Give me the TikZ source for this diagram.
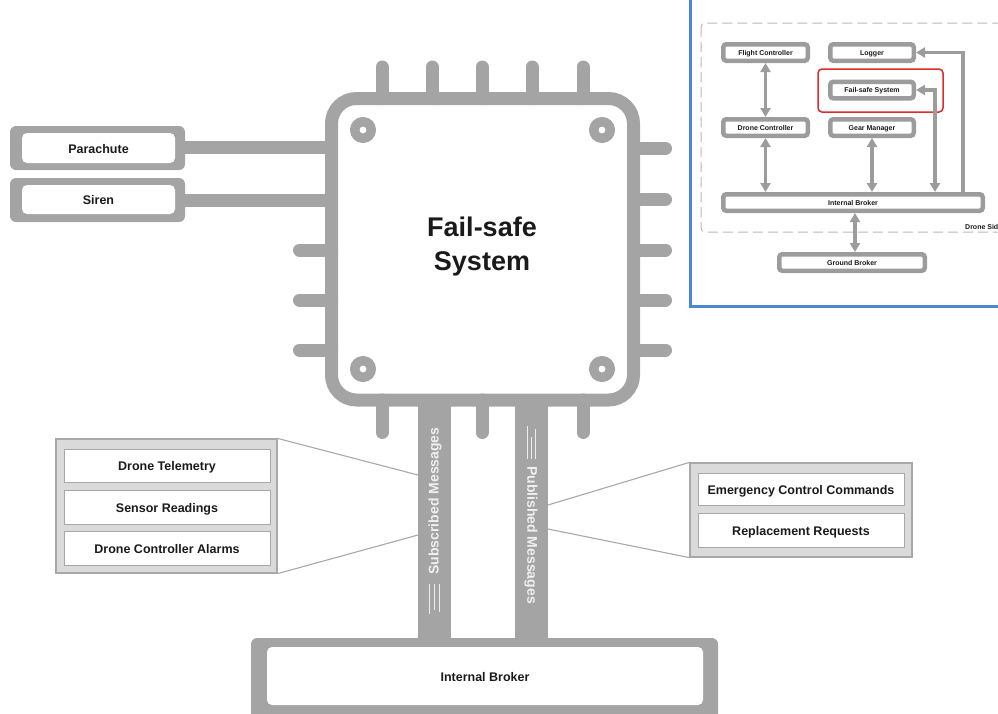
\documentclass[tikz,border=0pt]{standalone}
\usepackage{fontspec}
\setmainfont{Liberation Sans}
\usetikzlibrary{arrows.meta,calc}
\definecolor{chipgray}{HTML}{A4A4A4}
\definecolor{panelgray}{HTML}{DADADA}
\definecolor{edgegray}{HTML}{A8A8A8}
\definecolor{insetgray}{HTML}{9C9C9C}
\definecolor{dashgray}{HTML}{B8B8B8}
\definecolor{frameblue}{HTML}{4A88D2}
\definecolor{focusred}{HTML}{E02A2A}
\definecolor{ink}{HTML}{1A1A1A}
\tikzset{flowtip/.tip={Triangle[width=10pt,length=9pt]}}
\begin{document}
\begin{tikzpicture}[x=1pt,y=-1pt,
  pin/.style={draw=chipgray,line width=13pt,line cap=round},
  bus/.style={draw=chipgray,line width=13pt},
  chipbody/.style={draw=chipgray,line width=13pt,rounded corners=25pt,
    minimum width=302pt,minimum height=301.5pt,inner sep=0pt},
  hole/.style={circle,draw=chipgray,line width=9.5pt,minimum size=16.5pt,inner sep=0pt},
  frame/.style={fill=chipgray,rounded corners=6pt,inner sep=0pt},
  slot/.style={fill=white,rounded corners=5pt,inner sep=0pt,text=ink,
    text height=11.5pt,text depth=1pt,
    font=\bfseries\fontsize{12.5}{15}\selectfont},
  bar/.style={fill=chipgray,inner sep=0pt,minimum width=33pt,minimum height=238pt},
  panel/.style={fill=panelgray,draw=edgegray,line width=1.2pt,inner sep=0pt},
  msg/.style={fill=white,draw=edgegray,line width=1pt,inner sep=0pt,
    minimum width=206pt,minimum height=33pt,text=ink,
    text height=11.5pt,text depth=1pt,
    font=\bfseries\fontsize{12.5}{15}\selectfont},
  leader/.style={draw=edgegray,line width=1.1pt},
  barlabel/.style={text=white!94!black,inner sep=0pt,
    font=\bfseries\fontsize{14}{16}\selectfont},
  tick/.style={draw=white!80!chipgray,line width=0.8pt},
  ibox/.style={draw=insetgray,line width=4.5pt,rounded corners=3pt,fill=white,
    inner sep=0pt,minimum height=16.5pt,text=ink,
    text height=6pt,text depth=0.5pt,
    font=\bfseries\fontsize{7}{8}\selectfont},
  flow/.style={draw=insetgray,line width=3.5pt},
]
\useasboundingbox (0,0) rectangle (998,713);

% ---------- pins of the chip ----------
\foreach \px in {382,432,482,532,583} \draw[pin] (\px,67) -- (\px,98.5);
\foreach \py in {148.5,199.5,250,300,350} \draw[pin] (633.5,\py) -- (665.5,\py);
\foreach \py in {250,300,350} \draw[pin] (299.5,\py) -- (331.5,\py);
\foreach \px in {382,482,583} \draw[pin] (\px,400) -- (\px,432.5);

% ---------- chip body ----------
\node[chipbody] (chip) at (482.5,249.25) {};
\node[hole] (holeNW) at (363,130) {};
\node[hole] (holeNE) at (602,130) {};
\node[hole] (holeSW) at (363,369) {};
\node[hole] (holeSE) at (602,369) {};
\node[align=center,inner sep=0pt,text=ink,font=\bfseries\fontsize{27}{34}\selectfont]
  (title) at (482,247) {Fail-safe\\System};

% ---------- actuators on the left ----------
\node[frame,minimum width=175pt,minimum height=44pt] (parachuteframe) at (97.5,148) {};
\node[slot,minimum width=153pt,minimum height=30pt] (parachute) at (98.5,148) {Parachute};
\node[frame,minimum width=175pt,minimum height=44pt] (sirenframe) at (97.5,200) {};
\node[slot,minimum width=153pt,minimum height=29pt] (siren) at (98.5,199.5) {Siren};
\draw[bus] ([yshift=0.5pt]parachuteframe.east) -- ([yshift=0.5pt]chip.west |- parachuteframe.east);
\draw[bus] ([yshift=-0.5pt]sirenframe.east) -- ([yshift=-0.5pt]chip.west |- sirenframe.east);

% ---------- message buses and broker ----------
\node[bar] (subbar) at (434.5,519) {};
\node[bar] (pubbar) at (531.5,519) {};
\node[frame,minimum width=467pt,minimum height=87pt] (brokerframe) at (484.5,681.5) {};
\node[slot,minimum width=436pt,minimum height=58pt] (broker) at (485,676) {Internal Broker};

\node[barlabel,rotate=90] (sublabel) at (435,501) {Subscribed Messages};
\node[barlabel,rotate=-90] (publabel) at (531,535) {Published Messages};

\draw[tick] (429.5,584) -- (429.5,614);
\draw[tick] (434.5,584) -- (434.5,610);
\draw[tick] (439.5,584) -- (439.5,612);
\draw[tick] (527.5,426) -- (527.5,459);
\draw[tick] (531.5,437) -- (531.5,459);
\draw[tick] (535.5,429) -- (535.5,459);

% ---------- subscribed message list ----------
\node[panel,minimum width=221pt,minimum height=134pt] (subpanel) at (166.5,506) {};
\node[msg] (telemetry) at (167,465.5) {Drone Telemetry};
\node[msg,minimum height=34pt] (sensors) at (167,507) {Sensor Readings};
\node[msg,minimum height=34pt] (alarms) at (167,548) {Drone Controller Alarms};
\coordinate (subhi) at (418,475);
\coordinate (sublo) at (418,535);
\draw[leader] (subpanel.north east) -- (subhi);
\draw[leader] (subpanel.south east) -- (sublo);

% ---------- published message list ----------
\node[panel,minimum width=222pt,minimum height=94pt] (pubpanel) at (801,510) {};
\node[msg,minimum height=32pt] (emergency) at (801,489) {Emergency Control Commands};
\node[msg,minimum height=34pt] (replacement) at (801,530) {Replacement Requests};
\coordinate (pubhi) at (548,505);
\coordinate (publo) at (548,529);
\draw[leader] (pubhi) -- (pubpanel.north west);
\draw[leader] (publo) -- (pubpanel.south west);

% ---------- overview of the drone side ----------
\begin{scope}
\clip (689,-2) rectangle (998,308);
\draw[frameblue,line width=2.7pt] (690.7,-5) -- (690.7,306.2) -- (1005,306.2);
\draw[dashgray,line width=1pt,dash pattern=on 10pt off 5pt,rounded corners=4pt]
  (701,23) rectangle (1015,232);
\node[anchor=west,inner sep=0pt,text=ink,font=\bfseries\fontsize{7}{8}\selectfont]
  (droneside) at (965,226.5) {Drone Side};

\node[ibox,minimum width=84.5pt] (fc) at (765.5,52.5) {Flight Controller};
\node[ibox,minimum width=83.5pt] (lg) at (872,52.5) {Logger};
\node[ibox,minimum width=83.5pt] (fs) at (872,90) {Fail-safe System};
\node[ibox,minimum width=84.5pt] (dc) at (765.5,127.5) {Drone Controller};
\node[ibox,minimum width=83.5pt] (gm) at (872,127.5) {Gear Manager};
\node[ibox,minimum width=259.5pt] (ib) at (853,202.5) {Internal Broker};
\node[ibox,minimum width=145.5pt] (gb) at (852,262.5) {Ground Broker};
\draw[focusred,line width=1.5pt,rounded corners=4pt] (818,69) rectangle (943,112);

\draw[flow,flowtip-flowtip] (fc.south) -- (dc.north);
\draw[flow,flowtip-flowtip] (dc.south) -- (dc.south |- ib.north);
\draw[flow,flowtip-flowtip] (gm.south) -- (gm.south |- ib.north);
\draw[flow,flowtip-flowtip] (fs.east) -| ([xshift=-50pt]ib.north east);
\draw[flow,-flowtip] ([xshift=-22pt]ib.north east) |- (lg.east);
\draw[flow,flowtip-flowtip] ([xshift=2pt]ib.south) -- ([xshift=2pt]ib.south |- gb.north);
\end{scope}
\end{tikzpicture}
\end{document}
